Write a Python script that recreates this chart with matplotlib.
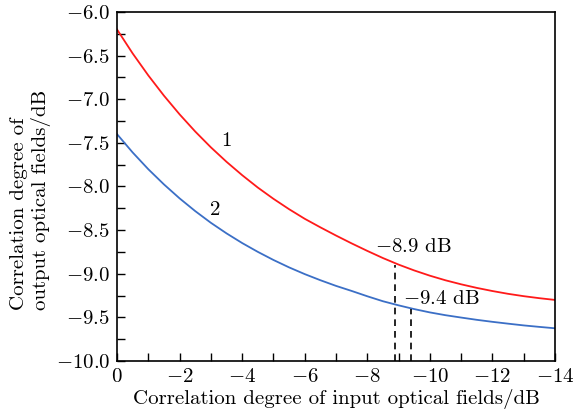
import numpy as np
import matplotlib
matplotlib.use("Agg")
import matplotlib.pyplot as plt
from matplotlib.ticker import MultipleLocator

# values (step 0.5 dB on the input axis)
x_input = [0, -0.5, -1, -1.5, -2, -2.5, -3, -3.5, -4, -4.5, -5, -5.5, -6, -6.5,
           -7, -7.5, -8, -8.5, -9, -9.5, -10, -10.5, -11, -11.5, -12, -12.5,
           -13, -13.5, -14]
curve1 = [-6.200, -6.475, -6.727, -6.959, -7.173, -7.370, -7.551, -7.717,
          -7.870, -8.012, -8.141, -8.260, -8.370, -8.468, -8.562, -8.652,
          -8.738, -8.820, -8.895, -8.962, -9.022, -9.075, -9.121, -9.162,
          -9.198, -9.230, -9.257, -9.280, -9.300]
curve2 = [-7.400, -7.610, -7.802, -7.976, -8.136, -8.282, -8.416, -8.537,
          -8.648, -8.749, -8.842, -8.927, -9.004, -9.074, -9.139, -9.197,
          -9.258, -9.315, -9.362, -9.405, -9.443, -9.475, -9.502, -9.528,
          -9.551, -9.572, -9.592, -9.609, -9.625]
mark_x = [-8.9, -9.4]
mark_y = [-8.90, -9.40]
mark_text = [r"$-$8.9 dB", r"$-$9.4 dB"]

plt.rcParams["font.family"] = "serif"
plt.rcParams["font.serif"] = ["cmr10"]
plt.rcParams["mathtext.fontset"] = "cm"
plt.rcParams["axes.formatter.use_mathtext"] = True

fig = plt.figure(figsize=(5.79, 4.16), dpi=100)
ax = fig.add_axes([0.2021, 0.1322, 0.7564, 0.8390])

ax.plot(x_input, curve1, color="#ff1a1a", lw=1.3)
ax.plot(x_input, curve2, color="#3b6fc6", lw=1.3)

# dashed markers down to the x axis
for mx, my in zip(mark_x, mark_y):
    ax.plot([mx, mx], [-10.0, my], color="black", lw=1.2, ls=(0, (4, 3)))

ax.text(-3.5, -7.48, "1", fontsize=15, ha="center", va="center")
ax.text(-3.13, -8.27, "2", fontsize=15, ha="center", va="center")
ax.text(-8.25, -8.69, mark_text[0], fontsize=15, ha="left", va="center")
ax.text(-9.15, -9.29, mark_text[1], fontsize=15, ha="left", va="center")

ax.set_xlim(0, -14)
ax.set_ylim(-10.0, -6.0)
ax.xaxis.set_major_locator(MultipleLocator(2))
ax.xaxis.set_minor_locator(MultipleLocator(1))
ax.yaxis.set_major_locator(MultipleLocator(0.5))
ax.yaxis.set_minor_locator(MultipleLocator(0.25))
ax.yaxis.set_major_formatter(plt.FuncFormatter(lambda v, p: r"$%.1f$" % v))
ax.xaxis.set_major_formatter(plt.FuncFormatter(lambda v, p: r"$%d$" % round(v)))
ax.tick_params(which="both", direction="in", length=6, width=1.0,
               labelsize=15, top=False, right=False)
ax.tick_params(axis="x", pad=5)
ax.tick_params(axis="y", pad=5)
for s in ax.spines.values():
    s.set_linewidth(1.2)

ax.set_xlabel("Correlation degree of input optical fields/dB", fontsize=15, labelpad=2)
ax.set_ylabel("Correlation degree of\noutput optical fields/dB", fontsize=15,
              linespacing=1.2, multialignment="left")
ax.yaxis.set_label_coords(-0.150, 0.461)

fig.savefig("out.png", dpi=100)
